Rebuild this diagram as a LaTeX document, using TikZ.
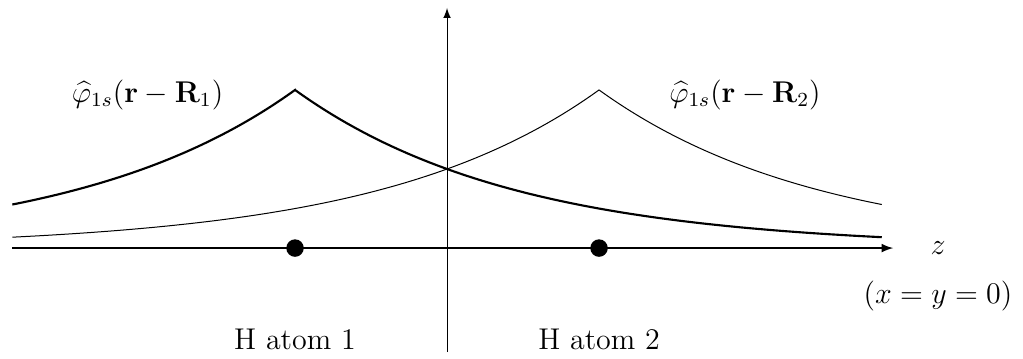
\documentclass[12pt,tikz,border=0pt]{standalone}
\usepackage{tikz}
\usetikzlibrary{positioning}

\begin{document}
\begin{tikzpicture}[x=60.8pt, y=60.8pt, >=latex, node distance=1.28cm, on grid,
    atom/.style={circle, fill, inner sep=0pt, minimum size=7pt},
    orbital/.style={line join=miter}]
        \useasboundingbox (-2.941,-0.724) rectangle (3.789,1.632);

        % axes
        \coordinate (zl) at (-2.86,0);
        \coordinate (zr) at (2.935,0);
        \coordinate (top) at (0,1.58);
        \coordinate (bot) at (0,-0.684);
        \draw[thin, ->] (bot) -- (top);
        \draw[semithick, ->] (zl) -- (zr);
        \node (z) at (3.23,0) {$z$};
        \node (xy) [below=0.67cm of z] {$(x=y=0)$};

        % atoms
        \node[atom] (h1) at (-1,0) {};
        \node[atom] (h2) at (1,0) {};
        \node (lab1) [below=1.28cm of h1] {H atom 1};
        \node (lab2) [below=1.28cm of h2] {H atom 2};

        % orbitals
        \draw[orbital, line width=0.85pt]
            plot[domain=-2.86:-1, samples=60] (\x,{1.04*exp(-0.6931*abs(\x+1))})
            -- plot[domain=-1:2.86, samples=80] (\x,{1.04*exp(-0.6931*abs(\x+1))});
        \draw[orbital, thin]
            plot[domain=-2.86:1, samples=80] (\x,{1.04*exp(-0.6931*abs(\x-1))})
            -- plot[domain=1:2.86, samples=60] (\x,{1.04*exp(-0.6931*abs(\x-1))});
        \node (phi1) at (-1.97,1.01) {$\widehat{\varphi}_{1s}(\mathbf{r}-\mathbf{R}_1)$};
        \node (phi2) at (1.96,1.01) {$\widehat{\varphi}_{1s}(\mathbf{r}-\mathbf{R}_2)$};
    \end{tikzpicture}
\end{document}
